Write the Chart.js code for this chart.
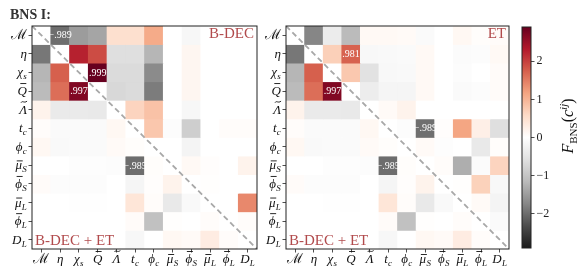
<!DOCTYPE html>
<html>
<head>
<meta charset="utf-8">
<script src="https://cdn.jsdelivr.net/npm/chart.js@4.4.1/dist/chart.umd.min.js"></script>
<style>
  body { margin: 0; background: #fff; width: 581px; height: 276px; position: relative; overflow: hidden; }
  .box { position: absolute; top: 0; height: 276px; }
</style>
</head>
<body>
<div class="box" style="left:0;width:260px"><canvas id="left"></canvas></div>
<div class="box" style="left:254px;width:260px"><canvas id="right"></canvas></div>
<div class="box" style="left:510px;width:71px"><canvas id="cbar"></canvas></div>
<script>
// parameter names (base_sub, combining accents)
const params = ['ℳ', 'η', 'χ_s', 'Q\u0304', 'Λ\u0303', 't_c', 'ϕ_c', 'μ\u0304_S', 'ϕ\u0304_S', 'μ\u0304_L', 'ϕ\u0304_L', 'D_L'];

// lower triangle, shared by both panels (B-DEC + ET), row i has columns 0..i-1
const lowerBdecEt = [
  [],
  [-1.9],
  [-1.2, 1.74],
  [-1.15, 1.62, 2.7],
  [0.2, -0.4, -0.4, -0.42],
  [0.05, -0.1, -0.1, -0.1, 0.12],
  [0.12, -0.12, -0.1, -0.1, 0.08, 0.04],
  [0, 0, -0.03, -0.03, -0.05, -2.0, 0.04],
  [0.06, -0.05, -0.05, -0.05, 0, -0.18, 0.03, 0.2],
  [0, 0, -0.02, -0.02, 0, 0.4, 0.05, -0.42, -0.12],
  [0, 0, 0, 0, 0, 0.06, -1.05, 0.02, 0, 0.05],
  [0, 0, 0, 0, 0, -0.15, 0, 0.12, 0.08, 0.3, 0.05]
];

// upper triangle, B-DEC alone, row i has columns i+1..11
const upperBdec = [
  [-1.99, -1.5, -1.4, 0.5, 0.5, 1.1, 0, -0.15, 0, 0, 0],
  [2.25, 1.9, -0.6, -0.6, -1.2, 0, 0.15, 0, 0, 0],
  [2.9, -0.65, -0.65, -1.7, 0, 0.15, 0, 0, 0],
  [-0.7, -0.65, -1.85, 0, 0.15, 0, 0, 0],
  [0.65, 0.85, 0, -0.15, 0, 0, 0],
  [0.8, -0.05, -0.85, 0, 0.05, 0.05],
  [0, -0.2, 0, 0, 0],
  [0.1, 0.03, 0, 0.2],
  [0.02, 0, 0],
  [0, 1.4],
  [0.05]
];

// upper triangle, ET alone
const upperEt = [
  [-1.75, -0.35, -1.15, 0.1, 0.1, 0.08, -0.1, 0, 0.12, 0.04, 0.06],
  [0.7, 1.72, -0.13, -0.12, -0.1, 0.1, 0, -0.08, -0.05, 0.1],
  [0.78, -0.55, -0.13, -0.12, 0.1, 0, -0.06, 0, 0.06],
  [-0.33, -0.18, -0.18, 0.1, 0, -0.1, -0.05, 0.06],
  [0.08, 0.2, 0, 0, 0, 0, 0],
  [-0.05, -1.98, 0.03, 1.15, 0.25, -0.6],
  [0.08, -0.04, 0, -0.42, 0.04],
  [0.05, -1.3, -0.08, 0.65],
  [0.02, 0.68, -0.13],
  [0.08, -0.2],
  [-0.1]
];

// annotated cells [row, col, text]
const notesBdec = [[0, 1, '−.989'], [2, 3, '.999'], [3, 2, '.997'], [7, 5, '−.985']];
const notesEt = [[1, 3, '.981'], [3, 2, '.997'], [5, 7, '−.989'], [7, 5, '−.985']];

const cbarRange = [-2.9, 2.9];
const cbarTicks = [-2, -1, 0, 1, 2];

const SERIF = '"Liberation Serif", "DejaVu Serif", serif';
const TAG = '#b14a4c';
Chart.defaults.font.family = SERIF;
Chart.defaults.animation = false;

// RdGy_r
const rdgy = ['#1a1a1a', '#4d4d4d', '#878787', '#bababa', '#e0e0e0', '#ffffff',
              '#fddbc7', '#f4a582', '#d6604d', '#b2182b', '#67001f'];
function hex(h) { return [1, 3, 5].map(k => parseInt(h.slice(k, k + 2), 16)); }
function cmap(v) {
  let t = (v - cbarRange[0]) / (cbarRange[1] - cbarRange[0]);
  t = Math.max(0, Math.min(1, t));
  const p = t * 10, k = Math.min(9, Math.floor(p)), f = p - k;
  const a = hex(rdgy[k]), b = hex(rdgy[k + 1]);
  return 'rgb(' + a.map((c, n) => Math.round(c + (b[n] - c) * f)).join(',') + ')';
}

function cell(upper, i, j) {
  if (i === j) return 0;
  return j > i ? upper[i][j - i - 1] : lowerBdecEt[i][j];
}

function drawLabel(ctx, lab, x, y, align) {
  const [head, sub] = lab.split('_');
  const base = head.replace(/[\u0304\u0303]/g, '');
  const acc = head.includes('\u0304') ? 'bar' : head.includes('\u0303') ? 'tilde' : null;
  const big = (base === 'ℳ' ? '14px ' : 'italic 13px ') + SERIF, small = 'italic 9px ' + SERIF;
  ctx.font = big;
  const wb = ctx.measureText(base).width;
  ctx.font = small;
  const ws = sub ? ctx.measureText(sub).width + 0.5 : 0;
  const w = wb + ws;
  const x0 = align === 'right' ? x - w : x - w / 2;
  ctx.fillStyle = '#111';
  ctx.textAlign = 'left';
  ctx.textBaseline = 'alphabetic';
  ctx.font = big;
  ctx.fillText(base, x0, y);
  if (sub) { ctx.font = small; ctx.fillText(sub, x0 + wb + 0.3, y + 3); }
  if (acc) {
    const tall = base === 'μ' ? 8.5 : 11.5;
    const cx = x0 + wb / 2 + 1;
    ctx.strokeStyle = '#111';
    ctx.lineWidth = 0.9;
    ctx.beginPath();
    if (acc === 'bar') {
      ctx.moveTo(cx - 3, y - tall); ctx.lineTo(cx + 3, y - tall);
    } else {
      ctx.moveTo(cx - 3, y - tall + 0.5);
      ctx.bezierCurveTo(cx - 1.5, y - tall - 2, cx, y - tall + 1.5, cx + 3, y - tall - 1);
    }
    ctx.stroke();
  }
}

const panelDeco = {
  id: 'panelDeco',
  afterDatasetsDraw(chart, args, o) {
    const { ctx, chartArea: a, scales: { x, y } } = chart;
    ctx.save();
    ctx.beginPath(); ctx.rect(a.left, a.top, a.width, a.height); ctx.clip();
    ctx.strokeStyle = '#a8a8a8'; ctx.lineWidth = 1.8; ctx.setLineDash([5.5, 3.5]);
    ctx.beginPath(); ctx.moveTo(a.left, a.top); ctx.lineTo(a.right, a.bottom); ctx.stroke();
    ctx.restore();

    ctx.save();
    ctx.fillStyle = '#fff';
    ctx.font = '10px ' + SERIF;
    ctx.textAlign = 'center'; ctx.textBaseline = 'middle';
    o.notes.forEach(([i, j, t]) => ctx.fillText(t, x.getPixelForValue(j), y.getPixelForValue(i + 0.5) + 0.5));

    ctx.fillStyle = TAG;
    ctx.font = '15px ' + SERIF;
    ctx.textBaseline = 'alphabetic';
    ctx.textAlign = 'right';
    ctx.fillText(o.tag, a.right - 3, a.top + 12);
    ctx.textAlign = 'left';
    ctx.fillText('B-DEC + ET', a.left + 3, a.bottom - 4);

    ctx.strokeStyle = '#222'; ctx.lineWidth = 1; ctx.setLineDash([]);
    ctx.strokeRect(a.left, a.top, a.width, a.height);

    params.forEach((p, i) => {
      drawLabel(ctx, p, a.left - 5, y.getPixelForValue(i + 0.5) + 4, 'right');
      drawLabel(ctx, p, x.getPixelForValue(i), a.bottom + 14, 'center');
    });
    if (o.title) {
      ctx.fillStyle = '#333';
      ctx.font = 'bold 14px ' + SERIF;
      ctx.textAlign = 'left';
      ctx.fillText(o.title, 10, 19);
    }
    ctx.restore();
  }
};

function panel(id, upper, notes, tag, title, padRight) {
  const datasets = params.map((p, i) => ({
    label: p,
    data: params.map(() => 1),
    backgroundColor: params.map((q, j) => cmap(cell(upper, i, j))),
    borderWidth: 0,
    barPercentage: 1,
    categoryPercentage: 1
  }));
  const grid = { display: true, drawOnChartArea: false, drawTicks: true, tickLength: 3.5, color: '#222', lineWidth: 0.8, offset: false };
  new Chart(document.getElementById(id), {
    type: 'bar',
    data: { labels: params, datasets },
    options: {
      responsive: true,
      maintainAspectRatio: false,
      events: [],
      layout: { padding: { top: 26, right: padRight, left: 0, bottom: 0 } },
      plugins: { legend: { display: false }, tooltip: { enabled: false }, panelDeco: { notes, tag, title } },
      scales: {
        x: {
          stacked: true, grid, border: { display: false },
          ticks: { callback: () => ' ' },
          afterFit: s => { s.height = 27; }
        },
        y: {
          stacked: true, min: 0, max: 12, reverse: true, grid, border: { display: false },
          ticks: { callback: () => ' ' },
          afterBuildTicks: s => { s.ticks = params.map((p, i) => ({ value: i + 0.5 })); },
          afterFit: s => { s.width = 32; }
        }
      }
    },
    plugins: [panelDeco]
  });
}

panel('left', upperBdec, notesBdec, 'B-DEC', 'BNS I:', 3);
panel('right', upperEt, notesEt, 'ET', null, 5);

const cbarDeco = {
  id: 'cbarDeco',
  afterDatasetsDraw(chart) {
    const { ctx, chartArea: a } = chart;
    ctx.save();
    ctx.strokeStyle = '#222'; ctx.lineWidth = 1;
    ctx.strokeRect(a.left, a.top, a.width, a.height);
    // label F_BNS(c^ij), rotated
    const parts = [
      ['F', 'italic 16px ', 0], ['BNS', '11px ', 3.5], ['(', '16px ', 0],
      ['c', 'italic 16px ', 0], ['ij', 'italic 11px ', -6.5], [')', '16px ', 0]
    ];
    let w = 0;
    parts.forEach(p => { ctx.font = p[1] + SERIF; w += ctx.measureText(p[0]).width; });
    ctx.translate(63, 126);
    ctx.rotate(-Math.PI / 2);
    ctx.fillStyle = '#111';
    ctx.textAlign = 'left'; ctx.textBaseline = 'alphabetic';
    let cx = -w / 2;
    parts.forEach(p => {
      ctx.font = p[1] + SERIF;
      ctx.fillText(p[0], cx, p[2]);
      cx += ctx.measureText(p[0]).width;
    });
    ctx.restore();
  }
};

new Chart(document.getElementById('cbar'), {
  type: 'bar',
  data: {
    labels: ['F'],
    datasets: [{
      data: [cbarRange],
      barPercentage: 1,
      categoryPercentage: 1,
      borderWidth: 0,
      backgroundColor: c => {
        const a = c.chart.chartArea;
        if (!a) return '#fff';
        const g = c.chart.ctx.createLinearGradient(0, a.bottom, 0, a.top);
        rdgy.forEach((col, k) => g.addColorStop(k / 10, col));
        return g;
      }
    }]
  },
  options: {
    responsive: true,
    maintainAspectRatio: false,
    events: [],
    layout: { padding: { top: 27, right: 0, left: 12, bottom: 28 } },
    plugins: { legend: { display: false }, tooltip: { enabled: false } },
    scales: {
      x: { display: false },
      y: {
        position: 'right', min: cbarRange[0], max: cbarRange[1],
        border: { display: false },
        grid: { display: true, drawOnChartArea: false, drawTicks: true, tickLength: 3.5, color: '#222', lineWidth: 0.8 },
        ticks: { color: '#222', padding: 2, font: { size: 12, family: SERIF },
                 callback: v => (v < 0 ? '−' + (-v) : String(v)) },
        afterBuildTicks: s => { s.ticks = cbarTicks.map(v => ({ value: v })); },
        afterFit: s => { s.width = 50; }
      }
    }
  },
  plugins: [cbarDeco]
});
</script>
</body>
</html>
